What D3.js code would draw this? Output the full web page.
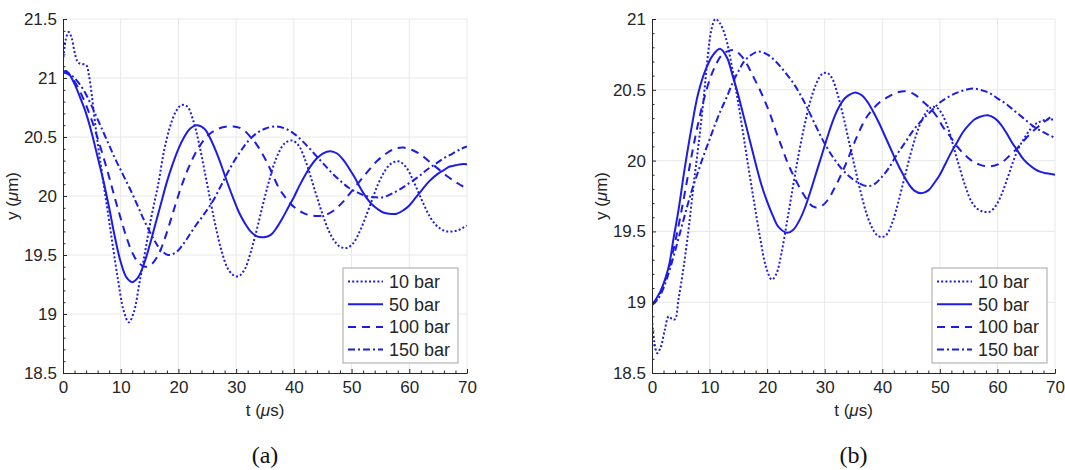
<!DOCTYPE html>
<html><head><meta charset="utf-8">
<script src="https://cdn.jsdelivr.net/npm/d3@7/dist/d3.min.js"></script>
<style>body{margin:0;background:#fff}svg{display:block}</style>
</head><body>
<svg id="chart" width="1065" height="470"></svg>
<script>
// ---- data: panel (a) ----
const a10 = [[0,21.14],[0.5,21.33],[1,21.39],[1.5,21.34],[2,21.22],[2.5,21.14],[3,21.12],[4,21.11],[4.5,21.02],[5,20.85],[5.5,20.64],[6.5,20.28],[7.5,19.95],[8.5,19.62],[9.5,19.30],[10.5,19.03],[11.4,18.93],[12.3,19.02],[13.2,19.25],[14.2,19.52],[15.3,19.82],[16.5,20.10],[17.5,20.38],[18.5,20.58],[19.5,20.71],[20.5,20.77],[21.5,20.76],[22.5,20.65],[23.5,20.46],[24.5,20.22],[25.5,19.97],[26.5,19.73],[27.5,19.53],[28.5,19.39],[29.5,19.33],[30.4,19.32],[31.5,19.38],[32.5,19.52],[33.5,19.70],[34.5,19.90],[35.5,20.09],[36.5,20.26],[37.5,20.38],[38.5,20.45],[39.7,20.47],[40.8,20.43],[42,20.30],[43,20.15],[44,19.99],[45,19.84],[46,19.71],[47,19.62],[48,19.57],[49.2,19.56],[50.3,19.60],[51.5,19.71],[52.5,19.83],[53.5,19.96],[54.5,20.09],[55.5,20.19],[56.5,20.26],[57.5,20.29],[58.4,20.29],[59.5,20.24],[60.5,20.15],[61.5,20.04],[62.5,19.93],[63.5,19.83],[64.5,19.76],[65.5,19.72],[66.5,19.70],[67.5,19.70],[68.5,19.71],[69.3,19.73],[70,19.75]];
const a50 = [[0,21.05],[0.5,21.06],[1,21.04],[2,20.95],[3,20.83],[4,20.70],[5,20.53],[6,20.33],[7,20.13],[8,19.90],[9,19.65],[10,19.44],[11,19.31],[12,19.27],[13,19.31],[14,19.42],[15,19.58],[16,19.76],[17,19.94],[18,20.12],[19,20.27],[20,20.40],[21,20.50],[22,20.57],[23.2,20.60],[24.5,20.57],[25.5,20.49],[26.5,20.38],[27.5,20.25],[28.5,20.11],[29.5,19.98],[30.5,19.86],[31.5,19.77],[32.5,19.70],[33.5,19.66],[34.8,19.65],[36,19.67],[37,19.73],[38,19.81],[39,19.90],[40,19.99],[41,20.09],[42,20.18],[43,20.26],[44,20.32],[45,20.36],[46.3,20.38],[47.5,20.36],[48.5,20.31],[49.5,20.24],[50.5,20.16],[51.5,20.07],[52.5,19.99],[53.5,19.93],[54.5,19.89],[55.5,19.86],[56.5,19.85],[57.8,19.85],[59,19.88],[60,19.92],[61,19.98],[62,20.04],[63,20.10],[64,20.15],[65,20.19],[66,20.22],[67,20.25],[68,20.26],[69,20.27],[70,20.27]];
const a100 = [[0,21.05],[1,21.03],[2,20.97],[3,20.88],[4,20.77],[5,20.64],[6,20.49],[7,20.33],[8,20.16],[9,19.98],[10,19.81],[11,19.65],[12,19.52],[13,19.44],[14.2,19.40],[15.3,19.42],[16.5,19.50],[17.5,19.62],[18.5,19.77],[19.5,19.93],[20.5,20.08],[21.5,20.21],[22.5,20.32],[23.5,20.41],[24.5,20.48],[25.5,20.53],[26.5,20.56],[27.5,20.58],[28.5,20.59],[29.5,20.59],[30.5,20.58],[31.5,20.55],[32.5,20.50],[33.5,20.44],[34.5,20.36],[35.5,20.27],[36.5,20.16],[37.5,20.06],[38.5,19.99],[39.5,19.93],[40.5,19.89],[41.5,19.86],[42.5,19.84],[44,19.83],[45.5,19.84],[47,19.88],[48.5,19.95],[50,20.04],[51.5,20.13],[53,20.22],[54.5,20.30],[56,20.36],[57.5,20.40],[59,20.41],[60.5,20.39],[62,20.35],[63.5,20.29],[65,20.23],[66.5,20.17],[68,20.12],[69,20.09],[70,20.06]];
const a150 = [[0,21.05],[1,21.04],[2,21.00],[3,20.94],[4,20.86],[5,20.76],[6,20.65],[7,20.54],[8,20.43],[9,20.32],[10,20.22],[11,20.12],[12,20.02],[13,19.91],[14,19.80],[15,19.70],[16,19.61],[17,19.54],[18.3,19.50],[19.5,19.52],[20.5,19.57],[21.5,19.64],[23,19.75],[24.5,19.85],[26,19.96],[27.5,20.10],[29,20.24],[30.5,20.36],[32,20.46],[33.5,20.53],[35,20.57],[37,20.59],[39,20.56],[40.5,20.51],[42,20.44],[43.5,20.36],[45,20.28],[46.5,20.20],[48,20.13],[49.5,20.07],[51,20.03],[52.5,20.00],[54,19.99],[55.5,19.99],[57,20.02],[58.5,20.06],[60,20.11],[61.5,20.16],[63,20.22],[64.5,20.27],[66,20.32],[67.5,20.36],[69,20.40],[70,20.42]];
// ---- data: panel (b) ----
const b10 = [[0,18.88],[0.4,18.72],[0.9,18.64],[1.5,18.68],[2.2,18.80],[2.9,18.90],[3.5,18.88],[4,18.88],[4.6,19.02],[5.5,19.25],[6.4,19.53],[7.2,19.82],[8.1,20.12],[9,20.45],[9.7,20.74],[10.3,20.92],[11,21.00],[11.8,20.97],[12.8,20.87],[13.8,20.68],[14.8,20.45],[15.8,20.20],[16.8,19.94],[17.8,19.69],[18.8,19.45],[19.8,19.25],[20.8,19.16],[21.6,19.20],[22.5,19.35],[23.5,19.58],[24.5,19.82],[25.5,20.05],[26.5,20.25],[27.5,20.42],[28.5,20.54],[29.5,20.61],[30.4,20.62],[31.3,20.58],[32.3,20.46],[33.3,20.30],[34.3,20.12],[35.3,19.94],[36.3,19.77],[37.3,19.62],[38.3,19.52],[39.2,19.47],[40,19.46],[40.8,19.48],[41.8,19.57],[42.8,19.71],[43.8,19.87],[44.8,20.03],[45.8,20.17],[46.8,20.28],[47.8,20.35],[48.7,20.38],[49.6,20.37],[50.5,20.32],[51.5,20.22],[52.5,20.08],[53.5,19.94],[54.5,19.81],[55.5,19.71],[56.5,19.66],[57.5,19.64],[58.7,19.64],[59.7,19.68],[60.7,19.76],[61.7,19.87],[62.7,19.99],[63.7,20.09],[64.7,20.16],[65.7,20.22],[66.7,20.26],[67.7,20.28],[68.7,20.29],[70,20.29]];
const b50 = [[0,18.98],[0.5,19.01],[1.5,19.08],[2.9,19.25],[3.7,19.44],[4.6,19.65],[5.7,19.95],[6.9,20.24],[8,20.47],[9.3,20.64],[10.5,20.74],[11.8,20.79],[13,20.73],[14,20.60],[15,20.46],[16,20.30],[17,20.14],[18,19.98],[19,19.83],[20,19.71],[21,19.61],[22,19.53],[23.5,19.49],[24.5,19.51],[25.5,19.57],[26.5,19.66],[27.5,19.78],[28.5,19.91],[29.5,20.04],[30.5,20.17],[31.5,20.29],[32.5,20.38],[33.5,20.44],[34.5,20.47],[35.5,20.48],[36.5,20.46],[37.5,20.41],[38.5,20.34],[39.5,20.26],[40.5,20.17],[41.5,20.08],[42.5,19.99],[43.5,19.91],[44.5,19.84],[45.5,19.79],[46.8,19.77],[48,19.79],[49,19.84],[50,19.90],[51,19.98],[52,20.06],[53,20.13],[54,20.20],[55,20.25],[56,20.29],[57,20.31],[58.3,20.32],[59.5,20.30],[60.5,20.26],[61.5,20.20],[62.5,20.13],[63.5,20.07],[64.5,20.01],[65.5,19.97],[66.5,19.94],[67.5,19.92],[68.5,19.91],[70,19.90]];
const b100 = [[0,18.98],[1,19.03],[2,19.12],[3,19.25],[4,19.42],[5,19.62],[6,19.84],[7,20.06],[8,20.26],[9,20.43],[10,20.57],[11,20.67],[12,20.74],[13,20.77],[14.2,20.78],[15.5,20.74],[16.5,20.68],[17.5,20.60],[18.5,20.52],[19.5,20.43],[20.5,20.33],[21.5,20.21],[22.5,20.10],[23.5,19.99],[24.5,19.90],[25.5,19.82],[26.5,19.75],[27.5,19.69],[28.3,19.67],[29.5,19.68],[30.5,19.72],[31.5,19.79],[32.5,19.87],[33.5,19.96],[34.5,20.06],[35.5,20.16],[36.5,20.25],[37.5,20.32],[38.5,20.37],[39.5,20.41],[41,20.45],[42.5,20.48],[44,20.49],[45.5,20.47],[47,20.42],[48.3,20.37],[49.5,20.31],[50.5,20.24],[51.8,20.17],[53,20.10],[54.1,20.05],[55.5,20.00],[57,19.97],[58.8,19.96],[60.5,19.98],[62,20.03],[63.5,20.09],[65,20.16],[66.5,20.22],[68,20.27],[69,20.30],[70,20.33]];
const b150 = [[0,18.98],[1,19.02],[2,19.10],[3,19.22],[4,19.36],[5,19.51],[6,19.66],[7,19.80],[8,19.92],[9,20.04],[10,20.15],[11,20.26],[12,20.36],[13,20.45],[14,20.55],[15,20.63],[16,20.70],[17,20.74],[18.5,20.77],[20,20.75],[21.5,20.70],[23,20.63],[24.5,20.55],[25.7,20.47],[27,20.37],[28.5,20.24],[30,20.12],[31.5,20.02],[33,19.94],[34.5,19.88],[36,19.84],[37.3,19.82],[38.5,19.83],[39.6,19.87],[41,19.94],[42.5,20.04],[44,20.13],[45.5,20.22],[47,20.29],[48.5,20.35],[50,20.41],[51.5,20.45],[53,20.48],[54.5,20.50],[55.8,20.51],[57,20.50],[58.5,20.48],[60,20.44],[61.5,20.40],[63,20.35],[64.5,20.30],[66,20.25],[67.5,20.21],[69,20.18],[70,20.16]];
// ---- labels ----
const seriesNames = ["10 bar","50 bar","100 bar","150 bar"];
const xTicks = [0,10,20,30,40,50,60,70];
const yTicksA = [18.5,19,19.5,20,20.5,21,21.5];
const yTicksB = [18.5,19,19.5,20,20.5,21];
const captions = ["(a)","(b)"];

const BLUE = "#1c1ce6";
const AX = "#262626";
const dashes = ["2,2.2", null, "8,6", "7,3,2,3"];
const svg = d3.select("#chart");
const font = "'Liberation Sans', Arial, Helvetica, sans-serif";

function panel(idx, left, right, top, bottom, yDom, yTicks, series, legX, caption) {
  const x = d3.scaleLinear().domain([0,70]).range([left,right]);
  const y = d3.scaleLinear().domain(yDom).range([bottom,top]);
  const g = svg.append("g");
  // grid
  g.selectAll(".gx").data(xTicks.filter(d=>d>0)).join("line")
    .attr("x1",d=>x(d)).attr("x2",d=>x(d)).attr("y1",top).attr("y2",bottom)
    .attr("stroke","#e8e8e8").attr("stroke-width",1);
  g.selectAll(".gy").data(yTicks.filter(d=>d>yDom[0])).join("line")
    .attr("y1",d=>y(d)).attr("y2",d=>y(d)).attr("x1",left).attr("x2",right)
    .attr("stroke","#e8e8e8").attr("stroke-width",1);
  // clip
  const cid = "clip"+idx;
  svg.append("clipPath").attr("id",cid).append("rect")
    .attr("x",left).attr("y",top-2).attr("width",right-left).attr("height",bottom-top+2);
  const line = d3.line().x(d=>x(d[0])).y(d=>y(d[1])).curve(d3.curveCatmullRom.alpha(0.5));
  series.forEach((s,i)=>{
    g.append("path").attr("d",line(s)).attr("fill","none").attr("stroke",BLUE)
      .attr("stroke-width",2).attr("clip-path",`url(#${cid})`)
      .attr("stroke-dasharray",dashes[i]);
  });
  // axes
  const xMinor = d3.range(0,71,2).filter(d=>d%10!==0);
  const xa = d3.axisBottom(x).tickValues(xTicks).tickSize(-4).tickPadding(8).tickFormat(d3.format("d"));
  const xg = g.append("g").attr("transform",`translate(0,${bottom})`).call(xa);
  xg.selectAll(".tick line").attr("stroke",AX);
  g.append("g").attr("transform",`translate(0,${bottom})`)
    .call(d3.axisBottom(x).tickValues(xMinor).tickSize(-2.5).tickFormat(""))
    .call(s=>{s.select(".domain").remove(); s.selectAll("line").attr("stroke",AX);});
  const yMinor = d3.range(Math.round(yDom[0]*10), Math.round(yDom[1]*10)+1).map(v=>v/10).filter(v=>Math.abs(v*2-Math.round(v*2))>1e-6);
  const ya = d3.axisLeft(y).tickValues(yTicks).tickSize(-4).tickPadding(6).tickFormat(d=>String(d));
  const yg = g.append("g").attr("transform",`translate(${left},0)`).call(ya);
  yg.selectAll(".tick line").attr("stroke",AX);
  g.append("g").attr("transform",`translate(${left},0)`)
    .call(d3.axisLeft(y).tickValues(yMinor).tickSize(-2.5).tickFormat(""))
    .call(s=>{s.select(".domain").remove(); s.selectAll("line").attr("stroke",AX);});
  [xg,yg].forEach(a=>{
    a.select(".domain").attr("stroke",AX).attr("stroke-width",1);
    a.selectAll("text").attr("fill",AX).style("font-family",font).style("font-size","17px");
  });
  // axis titles
  const yl = g.append("text").attr("transform",`translate(${left-45},${(top+bottom)/2}) rotate(-90)`)
    .attr("text-anchor","middle").attr("fill",AX).style("font-family",font).style("font-size","17px");
  yl.append("tspan").text("y (");
  yl.append("tspan").text("μ").style("font-style","italic");
  yl.append("tspan").text("m)");
  const xl = g.append("text").attr("x",(left+right)/2).attr("y",bottom+43)
    .attr("text-anchor","middle").attr("fill",AX).style("font-family",font).style("font-size","17px");
  xl.append("tspan").text("t (");
  xl.append("tspan").text("μ").style("font-style","italic");
  xl.append("tspan").text("s)");
  // legend
  const lg = g.append("g");
  const ly0 = 268, lh = 95, lw = 115;
  lg.append("rect").attr("x",legX).attr("y",ly0).attr("width",lw).attr("height",lh)
    .attr("fill","#fff").attr("stroke","#a6a6a6").attr("stroke-width",1);
  seriesNames.forEach((n,i)=>{
    const yy = ly0 + 13.5 + i*22.7;
    lg.append("line").attr("x1",legX+5).attr("x2",legX+40).attr("y1",yy).attr("y2",yy)
      .attr("stroke",BLUE).attr("stroke-width",2).attr("stroke-dasharray",dashes[i]);
    lg.append("text").attr("x",legX+46).attr("y",yy).attr("dy","0.36em")
      .attr("fill",AX).style("font-family",font).style("font-size","18px").text(n);
  });
  // caption
  svg.append("text").attr("x",(left+right)/2).attr("y",463).attr("text-anchor","middle")
    .attr("fill","#111").style("font-family","'Liberation Serif','DejaVu Serif',serif").style("font-size","24px")
    .text(caption);
}

panel(0, 63, 467, 19, 373, [18.5,21.5], yTicksA, [a10,a50,a100,a150], 343, captions[0]);
panel(1, 652, 1055, 19, 373, [18.5,21], yTicksB, [b10,b50,b100,b150], 932, captions[1]);
</script>
</body></html>
